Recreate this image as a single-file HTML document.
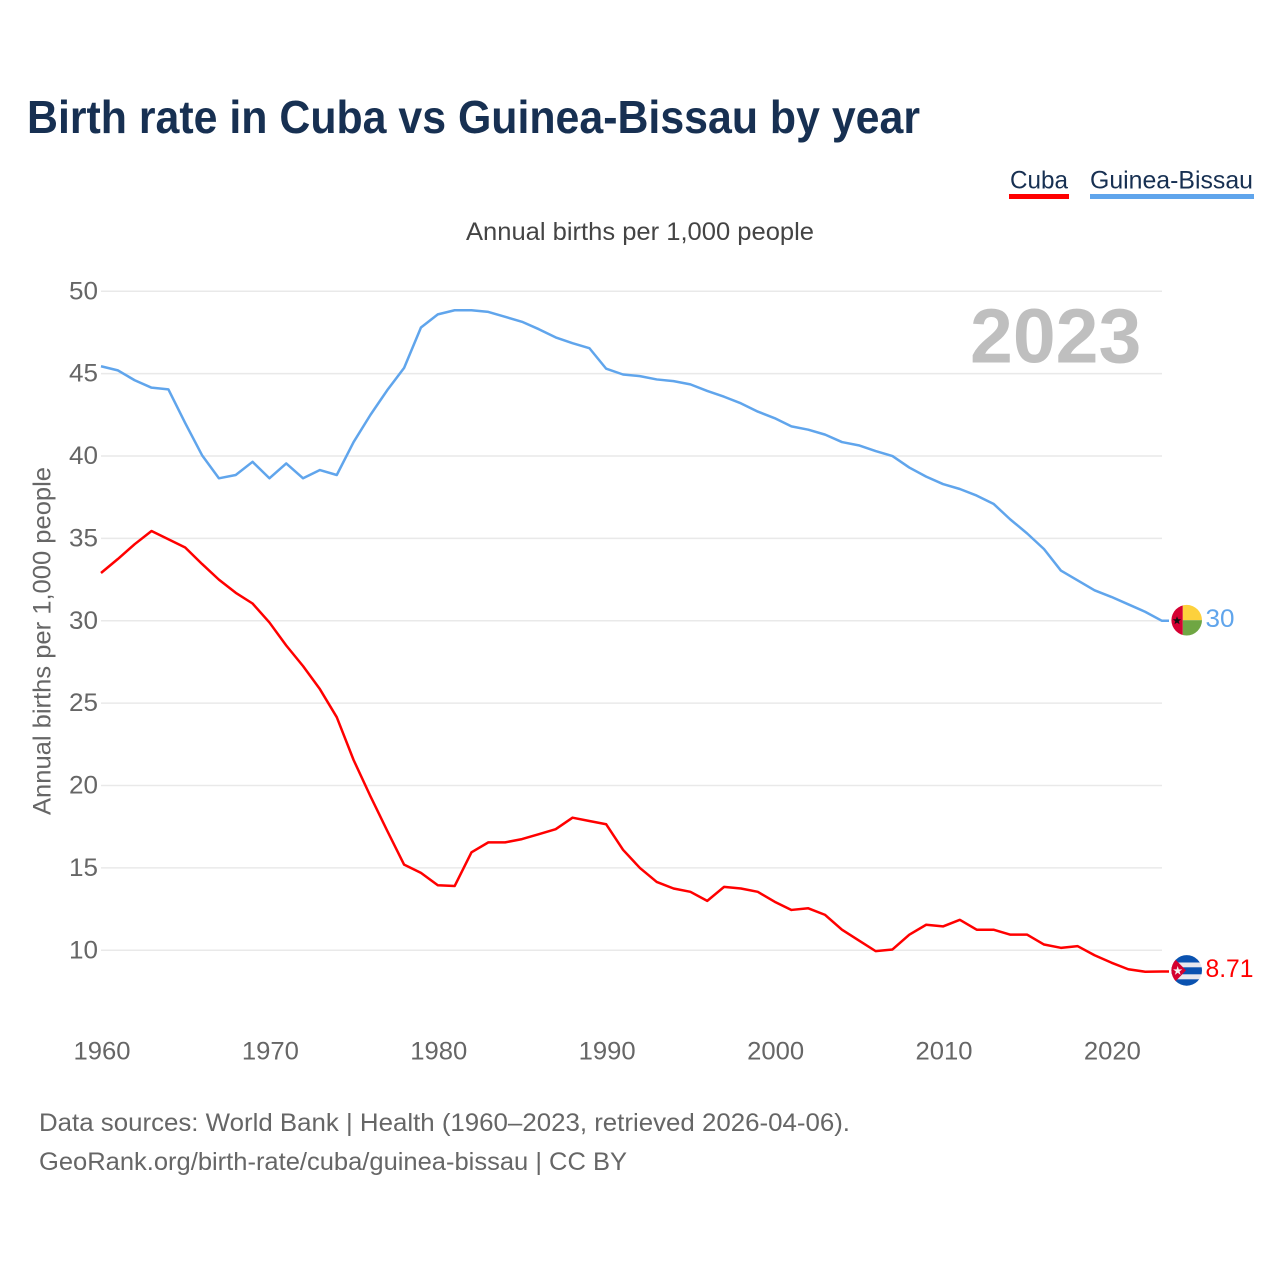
<!DOCTYPE html>
<html lang="en">
<head>
<meta charset="utf-8">
<title>Birth rate in Cuba vs Guinea-Bissau by year</title>
<style>
html,body{margin:0;padding:0;background:#fff;}
svg{display:block;font-family:"Liberation Sans",sans-serif;}
</style>
</head>
<body>
<svg id="chart" xmlns="http://www.w3.org/2000/svg" width="1280" height="1280" viewBox="0 0 1280 1280">
  <defs>
    <clipPath id="gw-clip"><circle cx="1186.7" cy="620.2" r="15.3"/></clipPath>
    <clipPath id="cu-clip"><circle cx="1186.7" cy="970.4" r="15.3"/></clipPath>
  </defs>
  <rect x="0" y="0" width="1280" height="1280" fill="#ffffff"/>
  <text x="27" y="133" font-size="46" font-weight="700" fill="#173052" textLength="893" lengthAdjust="spacingAndGlyphs">Birth rate in Cuba vs Guinea-Bissau by year</text>

  <text x="1010" y="188.5" font-size="25" fill="#173052" textLength="58" lengthAdjust="spacingAndGlyphs">Cuba</text>
  <rect x="1009" y="194" width="60" height="5" fill="#ff0000"/>
  <text x="1090" y="188.5" font-size="25" fill="#173052" textLength="163" lengthAdjust="spacingAndGlyphs">Guinea-Bissau</text>
  <rect x="1090" y="194" width="164" height="5" fill="#60a5ec"/>

  <text x="466" y="240" font-size="25" fill="#444444" textLength="348" lengthAdjust="spacingAndGlyphs">Annual births per 1,000 people</text>
  <text transform="translate(50.5,815) rotate(-90)" x="0" y="0" font-size="25" fill="#666666" textLength="348" lengthAdjust="spacingAndGlyphs">Annual births per 1,000 people</text>

  <g id="grid"></g>
  <g id="y-ticks"></g>
  <g id="x-ticks"></g>

  <text x="970" y="362.5" font-size="77" font-weight="700" fill="#bfbfbf">2023</text>

  <g id="series"></g>

  <g clip-path="url(#gw-clip)">
    <rect x="1182.7" y="604" width="20" height="16.2" fill="#fdd13c"/>
    <rect x="1182.7" y="620.2" width="20" height="16" fill="#6fa643"/>
    <rect x="1171" y="604" width="11.7" height="32" fill="#d50032"/>
    <polygon points="1177,616.2 1178.1,619.3 1181.2,619.3 1178.7,621.2 1179.6,624.3 1177,622.5 1174.4,624.3 1175.3,621.2 1172.8,619.3 1175.9,619.3" fill="#111111"/>
  </g>
  <g clip-path="url(#cu-clip)">
    <rect x="1171" y="955" width="32" height="31" fill="#e8e8ee"/>
    <rect x="1171" y="955" width="32" height="7.5" fill="#0a52b0"/>
    <rect x="1171" y="967.3" width="32" height="7" fill="#0a52b0"/>
    <rect x="1171" y="979.3" width="32" height="7" fill="#0a52b0"/>
    <polygon points="1171,955 1186,970.4 1171,986" fill="#d5002f"/>
    <polygon points="1177.7,966 1178.8,969.4 1182.3,969.4 1179.5,971.5 1180.6,974.9 1177.7,972.8 1174.8,974.9 1175.9,971.5 1173.1,969.4 1176.6,969.4" fill="#f2f2f2"/>
  </g>

  <text x="1205.5" y="627" font-size="25" fill="#60a5ec" textLength="29" lengthAdjust="spacingAndGlyphs">30</text>
  <text x="1205.5" y="977" font-size="25" fill="#ff0000" textLength="48" lengthAdjust="spacingAndGlyphs">8.71</text>

  <text x="39" y="1131" font-size="25" fill="#666666" textLength="811" lengthAdjust="spacingAndGlyphs">Data sources: World Bank | Health (1960–2023, retrieved 2026-04-06).</text>
  <text x="39" y="1170" font-size="25" fill="#666666" textLength="588" lengthAdjust="spacingAndGlyphs">GeoRank.org/birth-rate/cuba/guinea-bissau | CC BY</text>
</svg>
<script>
var startYear = 1960;
var yTickValues = [10, 15, 20, 25, 30, 35, 40, 45, 50];
var xTickValues = [1960, 1970, 1980, 1990, 2000, 2010, 2020];
var guineaBissauValues = [45.45, 45.2, 44.6, 44.15, 44.05, 42, 40.05, 38.65, 38.85, 39.65, 38.65, 39.55, 38.65, 39.15, 38.85, 40.85, 42.5, 44, 45.35, 47.8, 48.6, 48.85, 48.85, 48.75, 48.45, 48.15, 47.7, 47.2, 46.85, 46.55, 45.3, 44.95, 44.85, 44.65, 44.55, 44.35, 43.95, 43.6, 43.2, 42.7, 42.3, 41.8, 41.6, 41.3, 40.85, 40.65, 40.3, 40, 39.3, 38.75, 38.3, 38, 37.6, 37.1, 36.15, 35.3, 34.35, 33.05, 32.45, 31.85, 31.45, 31, 30.55, 30];
var cubaValues = [32.9, 33.75, 34.65, 35.45, 34.95, 34.45, 33.45, 32.5, 31.7, 31.05, 29.9, 28.5, 27.25, 25.85, 24.15, 21.55, 19.35, 17.25, 15.2, 14.7, 13.95, 13.9, 15.95, 16.55, 16.55, 16.75, 17.05, 17.35, 18.05, 17.85, 17.65, 16.1, 15, 14.15, 13.75, 13.55, 13, 13.85, 13.75, 13.55, 12.95, 12.45, 12.55, 12.15, 11.25, 10.6, 9.95, 10.05, 10.95, 11.55, 11.45, 11.85, 11.25, 11.25, 10.95, 10.95, 10.35, 10.15, 10.25, 9.7, 9.25, 8.85, 8.7, 8.71];

var NS = 'http://www.w3.org/2000/svg';
function xScale(year) { return 101 + (year - 1960) * 16.84; }
function yScale(value) { return 950.3 - (value - 10) * 16.475; }
function make(tag, parent) {
  var el = document.createElementNS(NS, tag);
  document.getElementById(parent).appendChild(el);
  return el;
}
yTickValues.forEach(function (v) {
  var line = make('line', 'grid');
  
  
  line.setAttribute('x1', 101);
  line.setAttribute('x2', 1162);
  line.setAttribute('y1', yScale(v));
  line.setAttribute('y2', yScale(v));
  line.setAttribute('stroke', '#e9e9e9');
  line.setAttribute('stroke-width', '1.5');
  var label = make('text', 'y-ticks');
  
  
  label.setAttribute('x', 98);
  label.setAttribute('y', yScale(v) + 8);
  label.setAttribute('text-anchor', 'end');
  label.setAttribute('font-size', '25');
  label.setAttribute('fill', '#666666');
  label.setAttribute('textLength', '29');
  label.setAttribute('lengthAdjust', 'spacingAndGlyphs');
  label.textContent = v;
});
xTickValues.forEach(function (t) {
  var label = make('text', 'x-ticks');
  
  
  label.setAttribute('x', xScale(t) - 27.5);
  label.setAttribute('y', 1059.5);
  label.setAttribute('font-size', '25');
  label.setAttribute('fill', '#666666');
  label.setAttribute('textLength', '57');
  label.setAttribute('lengthAdjust', 'spacingAndGlyphs');
  label.textContent = t;
});
function pathFor(values) {
  return values.map(function (v, i) {
    return (i ? 'L' : 'M') + xScale(startYear + i).toFixed(2) + ' ' + yScale(v).toFixed(2);
  }).join(' ') + ' H1169';
}
var gbLine = make('path', 'series');


gbLine.setAttribute('d', pathFor(guineaBissauValues));
gbLine.setAttribute('fill', 'none');
gbLine.setAttribute('stroke', '#60a5ec');
gbLine.setAttribute('stroke-width', '2.5');
gbLine.setAttribute('stroke-linejoin', 'round');
var cuLine = make('path', 'series');


cuLine.setAttribute('d', pathFor(cubaValues));
cuLine.setAttribute('fill', 'none');
cuLine.setAttribute('stroke', '#ff0000');
cuLine.setAttribute('stroke-width', '2.5');
cuLine.setAttribute('stroke-linejoin', 'round');
</script>
</body>
</html>
